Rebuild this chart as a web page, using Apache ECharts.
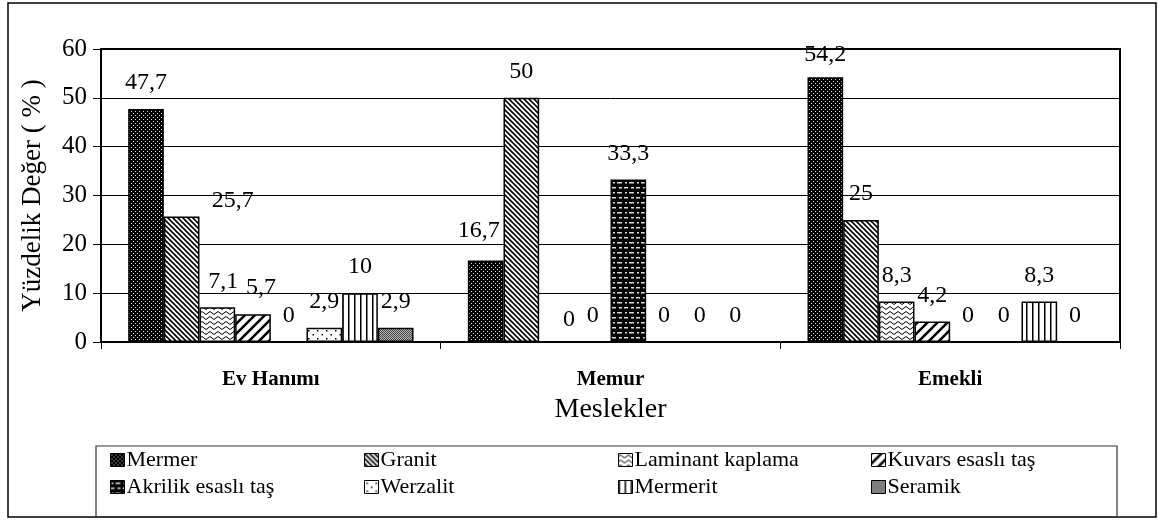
<!DOCTYPE html>
<html>
<head>
<meta charset="utf-8">
<script src="https://cdn.jsdelivr.net/npm/echarts@6/dist/echarts.min.js"></script>
<style>
html,body{margin:0;padding:0;background:#fff;}
#chart{width:1159px;height:520px;}
</style>
</head>
<body>
<div id="chart"></div>
<script>
// ---- data ----
var categories = ['Ev Hanımı', 'Memur', 'Emekli'];
var seriesNames = ['Mermer', 'Granit', 'Laminant kaplama', 'Kuvars esaslı taş', 'Akrilik esaslı taş', 'Werzalit', 'Mermerit', 'Seramik'];
var mermer   = [47.7, 16.7, 54.2];
var granit   = [25.7, 50, 25];
var laminant = [7.1, 0, 8.3];
var kuvars   = [5.7, 0, 4.2];
var akrilik  = [0, 33.3, 0];
var werzalit = [2.9, 0, 0];
var mermerit = [10, 0, 8.3];
var seramik  = [2.9, 0, 0];
var yTicks = [0, 10, 20, 30, 40, 50, 60];

var seriesValues = [mermer, granit, laminant, kuvars, akrilik, werzalit, mermerit, seramik];

// ---- styles ----
var FONT = 'Liberation Serif';
var labelOffsets = {
  'Mermer': {1: [-7, -4], 2: [0, 3]},
  'Granit': {0: [51, 10]},
  'Laminant kaplama': {0: [6, 0], 1: [12, 4]},
  'Kuvars esaslı taş': {0: [8, 0]}
};

function tile(w, h, draw) {
  var c = document.createElement('canvas');
  c.width = w; c.height = h;
  var g = c.getContext('2d');
  draw(g, w, h);
  return {image: c, repeat: 'repeat'};
}
var patterns = {
  'Mermer': tile(4, 4, function (g) {
    g.fillStyle = '#000'; g.fillRect(0, 0, 4, 4);
    g.fillStyle = '#ddd'; g.fillRect(1, 1, 1, 1); g.fillRect(3, 3, 1, 1);
  }),
  'Granit': tile(5, 5, function (g) {
    g.fillStyle = '#fff'; g.fillRect(0, 0, 5, 5);
    g.strokeStyle = '#000'; g.lineWidth = 1.6;
    g.beginPath();
    g.moveTo(-5, -5); g.lineTo(10, 10);
    g.moveTo(-5, 0); g.lineTo(5, 10);
    g.moveTo(0, -5); g.lineTo(10, 5);
    g.stroke();
  }),
  'Laminant kaplama': tile(8, 5, function (g) {
    g.fillStyle = '#fff'; g.fillRect(0, 0, 8, 5);
    g.strokeStyle = '#000'; g.lineWidth = 1;
    g.beginPath();
    g.moveTo(0, 3); g.quadraticCurveTo(2, 0, 4, 3); g.quadraticCurveTo(6, 6, 8, 3);
    g.stroke();
  }),
  'Kuvars esaslı taş': tile(10, 10, function (g) {
    g.fillStyle = '#fff'; g.fillRect(0, 0, 10, 10);
    g.strokeStyle = '#000'; g.lineWidth = 2.6;
    g.beginPath();
    g.moveTo(-5, 15); g.lineTo(15, -5);
    g.moveTo(-5, 5); g.lineTo(5, -5);
    g.moveTo(5, 15); g.lineTo(15, 5);
    g.stroke();
  }),
  'Akrilik esaslı taş': tile(12, 10, function (g) {
    g.fillStyle = '#000'; g.fillRect(0, 0, 12, 10);
    g.fillStyle = '#ddd';
    g.fillRect(1, 2, 2, 1.5); g.fillRect(5, 2, 5, 1.5);
    g.fillRect(0, 7, 4, 1.5); g.fillRect(7, 7, 3, 1.5);
  }),
  'Werzalit': tile(9, 8, function (g) {
    g.fillStyle = '#fff'; g.fillRect(0, 0, 9, 8);
    g.fillStyle = '#000';
    g.fillRect(2, 2, 1.5, 1.5); g.fillRect(6.5, 6, 1.5, 1.5);
  }),
  'Mermerit': tile(6, 4, function (g) {
    g.fillStyle = '#fff'; g.fillRect(0, 0, 6, 4);
    g.fillStyle = '#000'; g.fillRect(0, 0, 1.5, 4);
  }),
  'Seramik': tile(2, 2, function (g) {
    g.fillStyle = '#bbb'; g.fillRect(0, 0, 2, 2);
    g.fillStyle = '#444'; g.fillRect(0, 0, 1, 1); g.fillRect(1, 1, 1, 1);
  })
};

var series = seriesNames.map(function (name, si) {
  return {
    name: name,
    type: 'bar',
    barGap: '0%',
    barCategoryGap: '16%',
    itemStyle: {color: patterns[name], borderColor: '#000', borderWidth: 1.5},
    label: {
      show: true, position: 'top', distance: 14,
      fontFamily: FONT, fontSize: 24, color: '#000',
      formatter: function (p) { return String(p.value).replace('.', ','); }
    },
    data: seriesValues[si].map(function (v, ci) {
      var off = labelOffsets[name] && labelOffsets[name][ci];
      return off ? {value: v, label: {offset: off}} : v;
    })
  };
});

var legendPos = [[110, 449], [364, 449], [618, 449], [871, 449],
                 [110, 476], [364, 476], [618, 476], [871, 476]];
var legends = seriesNames.map(function (name, i) {
  return {
    data: [name], left: legendPos[i][0], top: legendPos[i][1],
    padding: 0, icon: 'rect', itemWidth: 14, itemHeight: 13, itemGap: 0,
    selectedMode: false,
    itemStyle: {borderColor: '#000', borderWidth: 1},
    textStyle: {fontFamily: FONT, fontSize: 22, color: '#000', padding: [0, 0, 0, -3]}
  };
});

var chart = echarts.init(document.getElementById('chart'), null, {renderer: 'canvas'});
chart.setOption({
  backgroundColor: '#fff',
  animation: false,
  textStyle: {fontFamily: FONT},
  grid: {left: 101, right: 39, top: 49, bottom: 178, show: true, borderColor: '#000', borderWidth: 2, backgroundColor: 'transparent'},
  legend: legends,
  graphic: [
    {type: 'rect', shape: {x: 8, y: 3, width: 1148, height: 514}, style: {fill: 'none', stroke: '#000', lineWidth: 1.5}, silent: true},
    {type: 'rect', shape: {x: 96, y: 446, width: 1021, height: 71}, style: {fill: 'none', stroke: '#333', lineWidth: 1.2}, silent: true}
  ],
  xAxis: {
    type: 'category', data: categories,
    name: 'Meslekler', nameLocation: 'middle', nameGap: 54,
    nameTextStyle: {fontFamily: FONT, fontSize: 28, color: '#000'},
    axisLine: {show: true, lineStyle: {color: '#000', width: 2}},
    axisTick: {show: true, length: 7, lineStyle: {color: '#000'}},
    axisLabel: {fontFamily: FONT, fontSize: 21, fontWeight: 'bold', color: '#000', margin: 27}
  },
  yAxis: {
    type: 'value', min: 0, max: 60, interval: 10,
    name: 'Yüzdelik Değer ( % )', nameLocation: 'middle', nameGap: 55, nameRotate: 90,
    nameTextStyle: {fontFamily: FONT, fontSize: 27, color: '#000'},
    axisLine: {show: true, lineStyle: {color: '#000', width: 2}},
    axisTick: {show: true, length: 8, lineStyle: {color: '#000'}},
    axisLabel: {fontFamily: FONT, fontSize: 25, color: '#000', margin: 14,
      formatter: function (v) { return yTicks.indexOf(v) >= 0 ? String(v) : ''; }},
    splitLine: {show: true, lineStyle: {color: '#000', width: 1}}
  },
  series: series
});
</script>
</body>
</html>
